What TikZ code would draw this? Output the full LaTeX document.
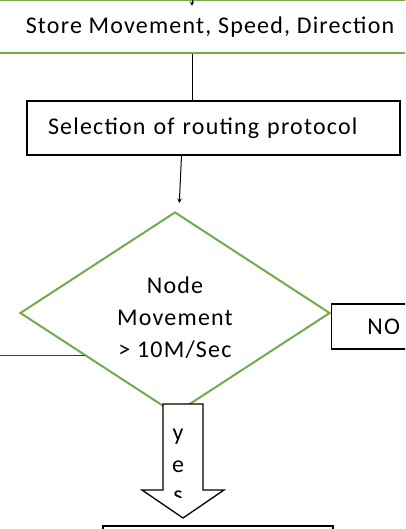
\documentclass[tikz,border=0pt]{standalone}
\usepackage{xcolor}
\usepackage{fontspec}
\setmainfont{Carlito}[LetterSpace=5]
\usepackage{tikz}
\usetikzlibrary{positioning,shapes.geometric,calc}

\definecolor{leafgreen}{HTML}{70AD47}
\definecolor{linegray}{HTML}{404040}

\tikzset{
  stepbox/.style={draw, line width=1.3pt, text centered, inner sep=0pt},
  decbox/.style={diamond, draw=leafgreen, line width=2pt, inner sep=0pt,
                 minimum width=310pt, minimum height=202pt},
  flow/.style={->, >=stealth, line width=1pt}
}

\begin{document}
\begin{tikzpicture}[x=1pt, y=-1pt, font=\fontsize{24}{32}\selectfont]

\useasboundingbox (0,0) rectangle (405,529);
\clip (0,0) rectangle (405,529);

% nodes %
\node[stepbox, draw=leafgreen, minimum width=440pt, minimum height=52.5pt] (store) at (210,26.75) {\raisebox{-2pt}{Store Movement, Speed, Direction}};
\node[stepbox, minimum width=373pt, minimum height=54pt, text width=331pt, align=left, inner xsep=21pt] (sel) at (213.5,128) {Selection of routing protocol};
\node[decbox] (dec) at (175,313) {};
\node[align=center] (dectxt) at ([yshift=-5pt]dec.center) {Node\\Movement\\> 10M/Sec};
\node[stepbox, anchor=west, minimum width=104pt, minimum height=45pt] (no) at ([yshift=-13.5pt]dec.east) {NO};
\node[stepbox, minimum width=230pt, minimum height=38pt] (act) at (218,545) {};

\coordinate (in) at (192,-10);
\coordinate (dtip) at (179.3,203);
\coordinate (lftend) at ($(dec.west)!0.42!(dec.south)$);
\coordinate (lft) at (0,0 |- lftend);

% edges %
\draw[flow] (in) -- ([yshift=-6pt]store.north -| in);
\draw[line width=1pt] (store.south -| in) -- (sel.north -| in);
\draw[flow] ([xshift=-32pt]sel.south) -- (dtip);
\draw[linegray, line width=0.8pt] (lft) -- (lftend);

% yes arrow %
\draw[fill=white, line width=1.3pt] (163,404) -- (203,404) -- (203,490) -- (224,490) -- (183,518) -- (142,490) -- (163,490) -- cycle;
\node (y1) at (178,437) {y};
\node (y2) at (178,467) {e};
\begin{scope}
  \clip (150,480) rectangle (200,497);
  \node (y3) at (178,497) {s};
\end{scope}

\end{tikzpicture}
\end{document}
